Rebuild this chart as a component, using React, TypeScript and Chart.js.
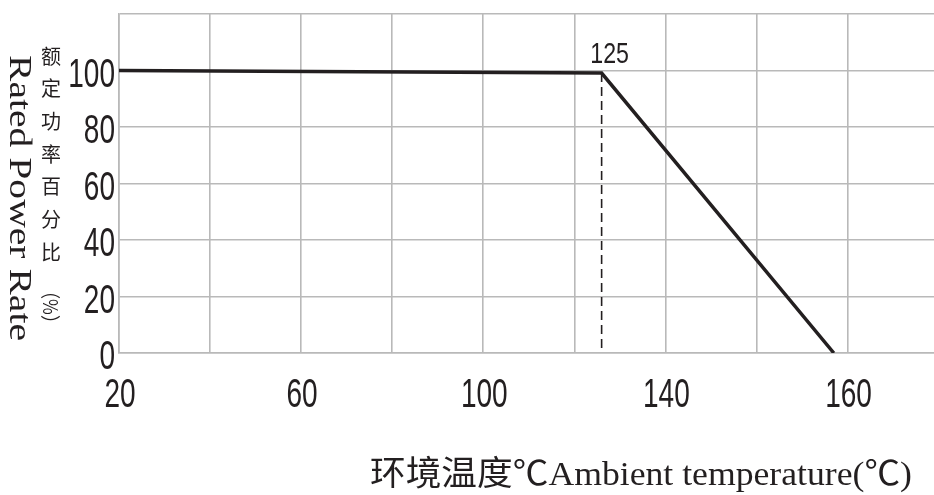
import React, { useEffect, useRef } from "react";
import { Chart, registerables } from "chart.js";

Chart.register(...registerables);

// ---- data ----
const tempValues = [20, 126, 177];
const powerValues = [100, 99.1, 0];
const kneeIndex = 1;
const kneeLabel = "125";
const xTickLabels = ["20", "", "60", "", "100", "", "140", "", "160"];
const yTickLabels = ["0", "20", "40", "60", "80", "100", ""];
const yTitleEn = "Rated Power Rate";
const yTitleZh = ["额", "定", "功", "率", "百", "分", "比"];
const yTitleZhUnit = "（%）";
const xTitle = "环境温度℃Ambient temperature(℃)";

const INK = "#231f20";
const GRID = "#b9b9b9";
const SANS = "'Liberation Sans', Arial, sans-serif";
const SERIF = "'Liberation Serif', 'Noto Sans CJK SC', serif";

function fitText(ctx: CanvasRenderingContext2D, text: string, x: number, y: number, w: number) {
  const m = ctx.measureText(text).width;
  ctx.save();
  ctx.translate(x, y);
  ctx.scale(w / m, 1);
  ctx.fillText(text, 0, 0);
  ctx.restore();
}

function narrowText(
  ctx: CanvasRenderingContext2D,
  text: string,
  x: number,
  y: number,
  sx: number,
  align: "left" | "center" | "right"
) {
  ctx.save();
  ctx.translate(x, y);
  ctx.scale(sx, 1);
  ctx.textAlign = align;
  ctx.fillText(text, 0, 0);
  ctx.restore();
}

const textPlugin = {
  id: "textPlugin",
  afterDraw(chart: any) {
    const ctx: CanvasRenderingContext2D = chart.ctx;
    const xs = chart.scales.x;
    const ys = chart.scales.y;
    ctx.save();
    ctx.fillStyle = INK;
    ctx.textBaseline = "alphabetic";

    // tick labels (condensed)
    ctx.font = `40px ${SANS}`;
    xs.ticks.forEach((_t: any, i: number) => {
      const lab = xTickLabels[i] ?? "";
      if (!lab) return;
      narrowText(ctx, lab, xs.getPixelForTick(i) + 1, 407, 0.7, "center");
    });
    ys.ticks.forEach((_t: any, i: number) => {
      const lab = yTickLabels[i] ?? "";
      if (!lab) return;
      narrowText(ctx, lab, 115, ys.getPixelForTick(i) + 16, 0.7, "right");
    });

    // knee annotation
    const kx = xs.getPixelForValue(tempValues[kneeIndex]);
    const ky = ys.getPixelForValue(powerValues[kneeIndex]);
    ctx.font = `29px ${SANS}`;
    narrowText(ctx, kneeLabel, kx + 8, ky - 10, 0.8, "center");

    // x title
    ctx.textAlign = "left";
    ctx.font = `34px ${SERIF}`;
    fitText(ctx, xTitle, 370, 485, 542);

    // y title english, rotated clockwise
    ctx.save();
    ctx.translate(18, 55);
    ctx.rotate(Math.PI / 2);
    ctx.font = `32px 'Liberation Serif', serif`;
    ctx.textBaseline = "middle";
    ctx.textAlign = "left";
    fitText(ctx, yTitleEn, 0, 0, 286);
    ctx.restore();

    // y title chinese, stacked
    ctx.font = `20px 'Noto Sans CJK SC', sans-serif`;
    ctx.textAlign = "center";
    ctx.textBaseline = "middle";
    yTitleZh.forEach((ch, i) => {
      ctx.fillText(ch, 51, 56 + i * 32.7);
    });
    ctx.save();
    ctx.translate(51, 282);
    ctx.rotate(Math.PI / 2);
    ctx.textAlign = "left";
    fitText(ctx, yTitleZhUnit, 0, 0, 50);
    ctx.restore();

    ctx.restore();
  },
};

export default function App() {
  const ref = useRef<HTMLCanvasElement | null>(null);

  useEffect(() => {
    document.body.style.margin = "0";
    document.body.style.overflow = "hidden";
    if (!ref.current) return;
    const chart = new Chart(ref.current, {
      type: "line",
      data: {
        datasets: [
          {
            data: tempValues.map((t, i) => ({ x: t, y: powerValues[i] })),
            borderColor: INK,
            borderWidth: 3.5,
            pointRadius: 0,
            tension: 0,
          },
          {
            data: [
              { x: tempValues[kneeIndex], y: powerValues[kneeIndex] },
              { x: tempValues[kneeIndex], y: 0 },
            ],
            borderColor: INK,
            borderWidth: 1.6,
            borderDash: [9, 5],
            pointRadius: 0,
          },
        ],
      },
      options: {
        animation: false,
        responsive: true,
        maintainAspectRatio: false,
        layout: { padding: { top: 14, left: 0, right: 0, bottom: 0 } },
        plugins: { legend: { display: false }, tooltip: { enabled: false } },
        scales: {
          x: {
            type: "linear",
            min: 20,
            max: 199,
            ticks: {
              stepSize: 20,
              includeBounds: false,
              autoSkip: false,
              display: false,
              callback: (_v: any, i: number) => xTickLabels[i] ?? "",
            },
            grid: { color: GRID, lineWidth: 1.6, drawTicks: false },
            border: { color: GRID, width: 1.6 },
            afterFit: (s: any) => {
              s.height = 495 - 353;
              s.paddingLeft = 0;
              s.paddingRight = 0;
            },
          },
          y: {
            min: 0,
            max: 120,
            ticks: {
              stepSize: 20,
              display: false,
              callback: (_v: any, i: number) => yTickLabels[i] ?? "",
            },
            grid: { color: GRID, lineWidth: 1.6, drawTicks: false },
            border: { color: GRID, width: 1.6 },
            afterFit: (s: any) => {
              s.width = 119;
              s.paddingTop = 0;
              s.paddingBottom = 0;
            },
          },
        },
      },
      plugins: [textPlugin],
    });
    return () => chart.destroy();
  }, []);

  return (
    <div style={{ position: "relative", width: 934, height: 495 }}>
      <canvas ref={ref} />
    </div>
  );
}
